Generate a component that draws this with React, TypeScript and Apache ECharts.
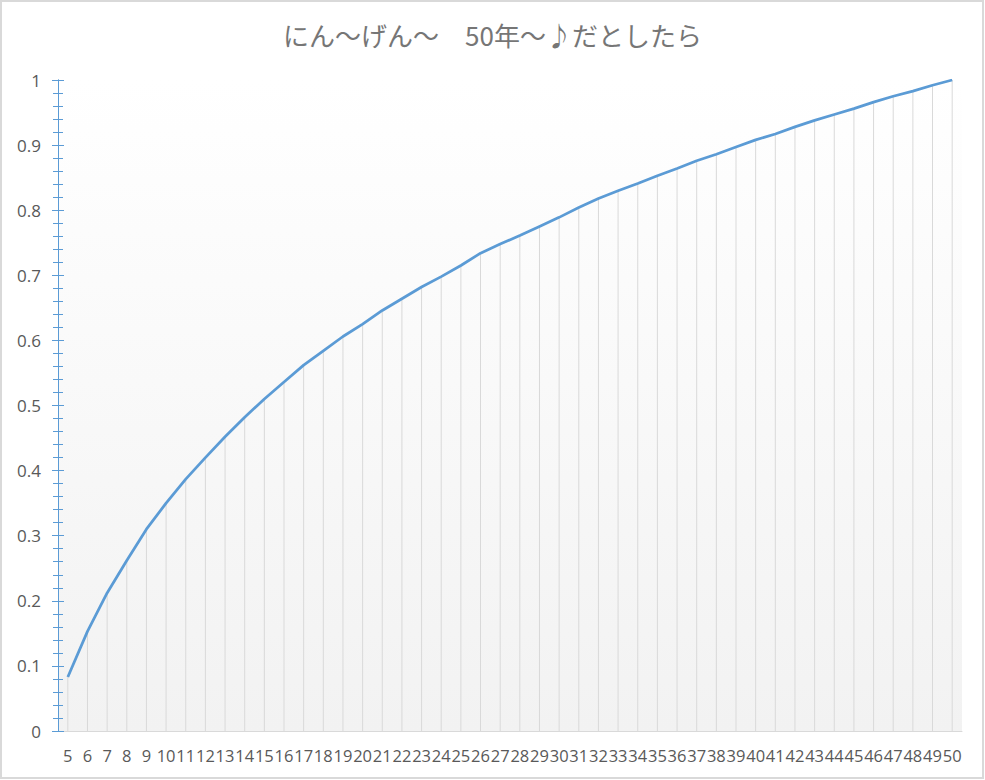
import React, { useEffect, useRef } from "react";
import * as echarts from "echarts";

const TITLE = "にん～げん～　50年～♪だとしたら";

const categories = [
  "5", "6", "7", "8", "9", "10", "11", "12", "13", "14",
  "15", "16", "17", "18", "19", "20", "21", "22", "23", "24",
  "25", "26", "27", "28", "29", "30", "31", "32", "33", "34",
  "35", "36", "37", "38", "39", "40", "41", "42", "43", "44",
  "45", "46", "47", "48", "49", "50",
];

const values = [
  0.083, 0.153, 0.212, 0.262, 0.31, 0.35, 0.387, 0.42, 0.452, 0.482,
  0.51, 0.536, 0.562, 0.584, 0.606, 0.625, 0.646, 0.664, 0.682, 0.698,
  0.715, 0.734, 0.748, 0.761, 0.775, 0.789, 0.804, 0.818, 0.83, 0.841,
  0.853, 0.864, 0.876, 0.886, 0.897, 0.908, 0.917, 0.928, 0.938, 0.947,
  0.956, 0.966, 0.975, 0.983, 0.992, 1.0,
];

const Y_MIN = 0;
const Y_MAX = 1;
const Y_INTERVAL = 0.1;

export default function App() {
  const ref = useRef<HTMLDivElement>(null);

  useEffect(() => {
    if (!ref.current) return;
    const chart = echarts.init(ref.current, undefined, { renderer: "svg" });
    const axisBlue = "#5B9BD5";
    const labelFont = "'Open Sans', 'Noto Sans', sans-serif";
    const yBase = {
      type: "value" as const,
      min: Y_MIN,
      max: Y_MAX,
      interval: Y_INTERVAL,
      position: "left" as const,
      offset: 0,
      axisLine: { show: true, lineStyle: { color: axisBlue, width: 1 } },
      splitLine: { show: false },
    };
    chart.setOption({
      animation: false,
      backgroundColor: "#ffffff",
      title: {
        text: TITLE,
        left: "center",
        top: 16,
        textStyle: {
          fontFamily: "'Noto Sans CJK JP', sans-serif",
          fontSize: 26,
          fontWeight: "normal",
          color: "#767676",
        },
      },
      graphic: [
        {
          type: "rect",
          shape: { x: 1, y: 1, width: 982, height: 777 },
          style: { fill: "none", stroke: "#d9d9d9", lineWidth: 2 },
          silent: true,
          z: 100,
        },
      ],
      grid: {
        left: 58,
        right: 23,
        top: 80,
        bottom: 49,
        show: true,
        borderWidth: 0,
        backgroundColor: new echarts.graphic.LinearGradient(0, 0, 0, 1, [
          { offset: 0, color: "#ffffff" },
          { offset: 1, color: "#f2f2f2" },
        ]),
      },
      xAxis: {
        type: "category",
        data: categories,
        boundaryGap: true,
        axisLine: { show: true, lineStyle: { color: "#d9d9d9", width: 1 } },
        axisTick: { show: false },
        splitLine: { show: false },
        axisLabel: {
          interval: 0,
          color: "#595959",
          fontSize: 16.5,
          fontFamily: labelFont,
          margin: 16,
          hideOverlap: false,
        },
      },
      yAxis: [
        {
          ...yBase,
          axisTick: { show: true, inside: false, length: 6, lineStyle: { color: axisBlue } },
          minorTick: { show: true, splitNumber: 5, length: 5, lineStyle: { color: axisBlue } },
          axisLabel: {
            color: "#595959",
            fontSize: 17,
            fontFamily: labelFont,
            margin: 17,
          },
        },
        {
          ...yBase,
          axisTick: { show: true, inside: true, length: 6, lineStyle: { color: axisBlue } },
          minorTick: { show: true, splitNumber: 5, length: 5, lineStyle: { color: axisBlue } },
          axisLabel: { show: false },
        },
      ],
      series: [
        {
          type: "bar",
          data: values,
          barWidth: 1,
          itemStyle: { color: "#d9d9d9" },
          silent: true,
          z: 1,
        },
        {
          type: "line",
          data: values,
          showSymbol: false,
          symbol: "none",
          lineStyle: { color: axisBlue, width: 2.75 },
          z: 3,
        },
      ],
    });
    return () => chart.dispose();
  }, []);

  return (
    <div
      ref={ref}
      style={{ position: "absolute", left: 0, top: 0, width: 985, height: 780, background: "#fff" }}
    />
  );
}
